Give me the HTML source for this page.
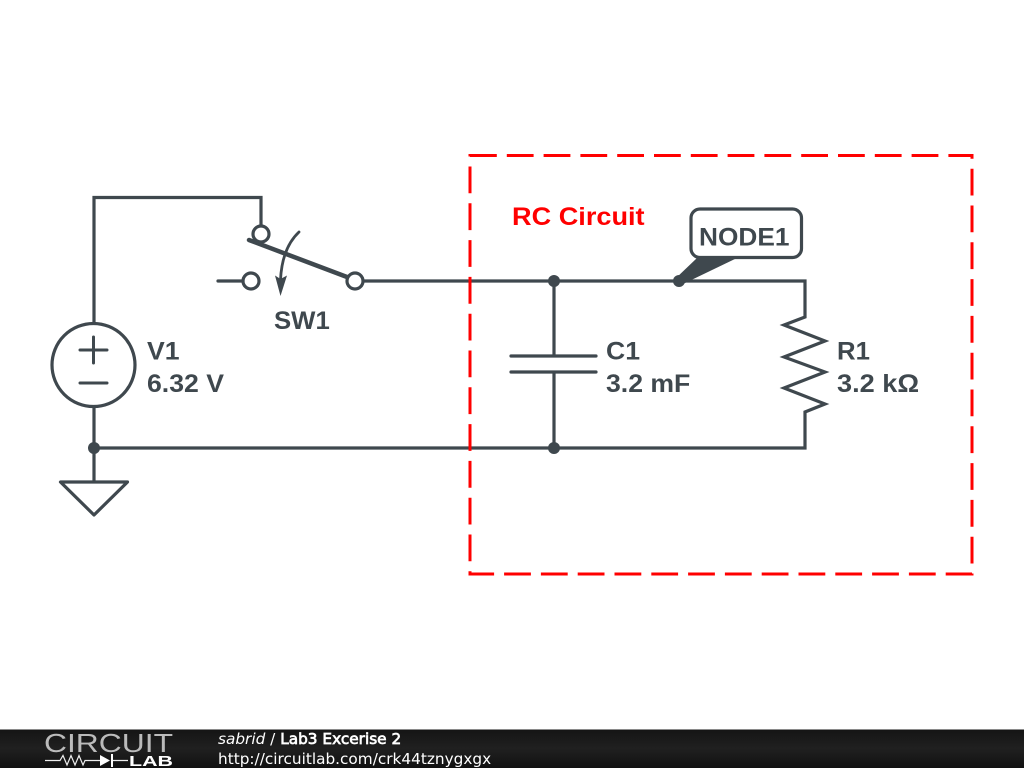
<!DOCTYPE html>
<html>
<head>
<meta charset="utf-8">
<style>
html,body{margin:0;padding:0;background:#fff;width:1024px;height:768px;overflow:hidden}
svg{display:block;position:absolute;left:0;top:0}
.l{font-family:"Liberation Sans",Arial,sans-serif;font-weight:bold;font-size:25px;fill:#3f484e}
.f{font-family:"DejaVu Sans",sans-serif;font-size:15.3px;fill:#fff}
</style>
</head>
<body>
<svg width="1024" height="768" viewBox="0 0 1024 768" xmlns="http://www.w3.org/2000/svg">
<defs>
<linearGradient id="g" x1="0" y1="0" x2="0" y2="1">
<stop offset="0" stop-color="#141414"/><stop offset="0.5" stop-color="#202020"/><stop offset="1" stop-color="#111"/>
</linearGradient>
</defs>
<rect width="1024" height="768" fill="#fff"/>

<g fill="none" stroke="#3f484e" stroke-width="3.200" stroke-linecap="butt">
<path d="M94 322V197.500H261V226"/>
<path d="M363 281H805V317L784 325L825 341L784 357L825 372L784 388L825 404L805 412V448H94" stroke-linejoin="miter"/>
<path d="M94 407V482"/>
<path d="M554 281V356M554 372V448"/>
<path d="M511 356H596M511 372H596" stroke-linecap="round"/>
<path d="M218 281H243" stroke-linecap="round"/>
<circle cx="93.500" cy="365" r="41.500"/>
<path d="M80 350H107M93.500 337V363M80 383H107" stroke-width="3" stroke-linecap="round"/>
<path d="M60.500 482H127.500L94 515Z" stroke-linejoin="round"/>
<circle cx="261" cy="234" r="8" />
<circle cx="251" cy="281" r="8"/>
<circle cx="355" cy="281" r="8"/>
<path d="M249 240L347 277" stroke-width="4.500" stroke-linecap="round"/>
<path d="M299 232Q282 248 280.500 280" stroke-width="2.800" stroke-linecap="round"/>
</g>
<path d="M275 275.500L280.500 296L287 275.500L280.500 279Z" fill="#3f484e"/>

<g fill="#3f484e">
<circle cx="554" cy="281" r="6"/>
<circle cx="554" cy="448" r="6"/>
<circle cx="94" cy="448" r="6"/>
<circle cx="679" cy="281" r="6"/>
</g>
<rect x="691" y="209" width="110.500" height="48.500" rx="9" fill="#fff" stroke="#3f484e" stroke-width="3.200"/>
<path d="M675 279L697 258H737L683 284Z" fill="#3f484e"/>

<path d="M470 155.500H972V574H470Z" fill="none" stroke="#f00" stroke-width="3" stroke-dasharray="26.800 10"/>

<text class="l" transform="translate(147 359.500) scale(1.065 1)">V1</text>
<text class="l" transform="translate(147 392) scale(1.065 1)">6.32 V</text>
<text class="l" transform="translate(274 329) scale(1.03 1)">SW1</text>
<text class="l" transform="translate(606 359.500) scale(1.065 1)">C1</text>
<text class="l" transform="translate(606 392) scale(1.065 1)">3.2 mF</text>
<text class="l" transform="translate(837 359.500) scale(1.03 1)">R1</text>
<text class="l" transform="translate(837 392) scale(1.085 1)">3.2 kΩ</text>
<text class="l" transform="translate(699 245.500) scale(1.05 1)">NODE1</text>
<text transform="translate(512 225) scale(1.085 1)" font-family="'Liberation Sans',Arial,sans-serif" font-weight="bold" font-size="25" fill="#f00">RC Circuit</text>

<rect x="0" y="729" width="1024" height="39" fill="url(#g)"/>
<rect x="0" y="729" width="1024" height="1" fill="#8a8a8a"/>
<text x="44" y="752" font-family="'Liberation Sans',Arial,sans-serif" font-size="26" fill="#bbb" textLength="129" lengthAdjust="spacingAndGlyphs">CIRCUIT</text>
<path d="M45 760.500H60L63 755.500L67 765L71 755.500L75 765L79 755.500L83 765L85 760.500H100M112 760.500H128" fill="none" stroke="#eee" stroke-width="1.200"/>
<path d="M100 755L110 760.500L100 766ZM111 754H113V767H111Z" fill="#fff"/>
<text x="129" y="766" font-family="'Liberation Sans',Arial,sans-serif" font-weight="bold" font-size="15" fill="#fff" textLength="44" lengthAdjust="spacingAndGlyphs">LAB</text>
<text class="f" x="218" y="744"><tspan font-style="italic">sabrid</tspan> / <tspan stroke="#fff" stroke-width="0.700">Lab3 Excerise 2</tspan></text>
<text class="f" x="218" y="764">http://circuitlab.com/crk44tznygxgx</text>
</svg>
</body>
</html>
